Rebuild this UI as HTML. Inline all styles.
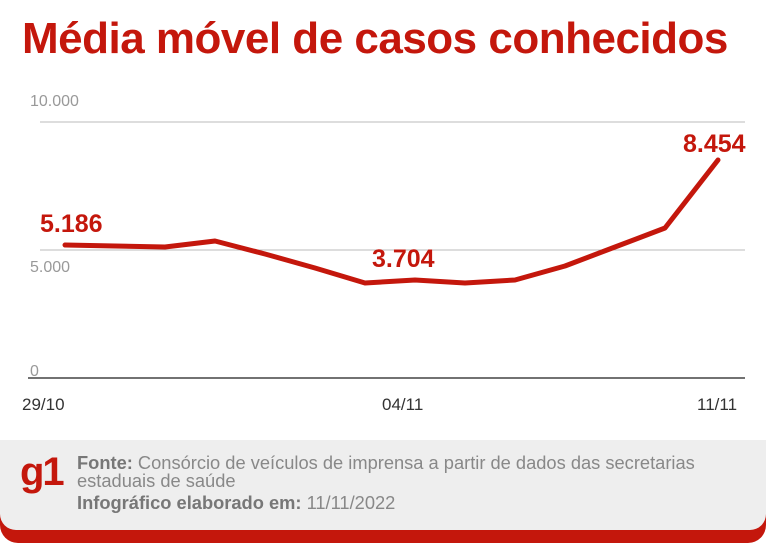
<!DOCTYPE html>
<html><head><meta charset="utf-8"><style>
body{margin:0;width:768px;height:556px;background:#fff;position:relative;overflow:hidden;font-family:"Liberation Sans",sans-serif}
.t{position:absolute;left:22px;top:14px;font-size:44px;font-weight:bold;color:#c4170c;letter-spacing:-0.5px;white-space:nowrap}
.red{position:absolute;left:0;top:440px;width:766px;height:103px;background:#c4170c;border-radius:0 0 18px 18px}
.grey{position:absolute;left:0;top:440px;width:766px;height:90px;background:#eeeeee;border-radius:0 0 16px 16px}
.g1{position:absolute;left:20px;top:450px;font-size:40px;font-weight:bold;color:#c4170c;letter-spacing:-2px}
.f{position:absolute;left:77px;font-size:18.3px;color:#888;line-height:18px;white-space:nowrap}
.f b{color:#777}
</style></head><body>
<div class="t">Média móvel de casos conhecidos</div>
<svg width="768" height="440" style="position:absolute;left:0;top:0">
<g stroke="#bbb" stroke-width="1"><line x1="40" y1="122" x2="745" y2="122"/><line x1="40" y1="250" x2="745" y2="250"/></g>
<line x1="28" y1="378" x2="745" y2="378" stroke="#444" stroke-width="1.5"/>
<g font-size="16" fill="#999" font-family="Liberation Sans"><text x="30" y="106">10.000</text><text x="30" y="272">5.000</text><text x="30" y="376">0</text></g>
<g font-size="17" fill="#333" font-family="Liberation Sans"><text x="22" y="410">29/10</text><text x="382" y="410">04/11</text><text x="697" y="410">11/11</text></g>
<polyline fill="none" stroke="#c4170c" stroke-width="5" stroke-linejoin="round" stroke-linecap="round" points="65,245 115,246 165,247 215,241 265,254 315,268 365,283 415,280 465,283 515,280 565,266 615,247 665,228 718,160"/>
<g font-size="25" font-weight="bold" fill="#c4170c" font-family="Liberation Sans"><text x="40" y="232">5.186</text><text x="372" y="267">3.704</text><text x="683" y="152">8.454</text></g>
</svg>
<div class="red"></div><div class="grey"></div>
<div class="g1">g1</div>
<div class="f" style="top:454px"><b>Fonte:</b> Consórcio de veículos de imprensa a partir de dados das secretarias<br>estaduais de saúde</div>
<div class="f" style="top:494px"><b>Infográfico elaborado em:</b> 11/11/2022</div>
</body></html>
